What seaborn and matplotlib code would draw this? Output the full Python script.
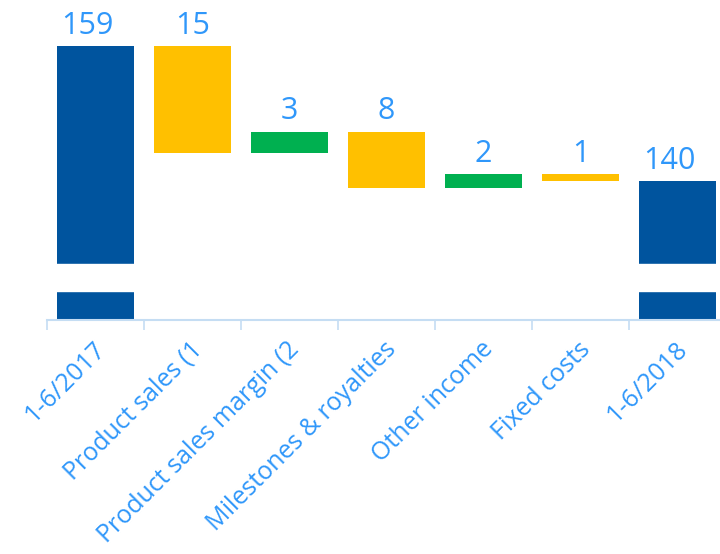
import matplotlib
matplotlib.use("Agg")
import matplotlib.pyplot as plt
import matplotlib.transforms as mtransforms
import seaborn as sns
import numpy as np

categories = ["1-6/2017", "Product sales (1", "Product sales margin (2",
              "Milestones & royalties", "Other income", "Fixed costs", "1-6/2018"]
changes = [159, -15, 3, -8, 2, -1, 140]
labels = ["159", "15", "3", "8", "2", "1", "140"]
is_total = [True, False, False, False, False, False, True]

BLUE = "#00549E"
YELLOW = "#FFC000"
GREEN = "#00B050"
TXT = "#2F97FA"
AXC = "#C5DDF3"

# waterfall tops / bottoms
tops, bottoms, colors = [], [], []
running = 0
for v, tot in zip(changes, is_total):
    if tot:
        running = v
        tops.append(v); bottoms.append(0); colors.append(BLUE)
    else:
        start = running
        running = running + v
        tops.append(max(start, running)); bottoms.append(min(start, running))
        colors.append(GREEN if v > 0 else YELLOW)

sns.set_theme(style="white")
plt.rcParams['font.family'] = ['Open Sans', 'DejaVu Sans']

fig = plt.figure(figsize=(7.2, 5.54), dpi=100)
ax = fig.add_axes([47/720, 1 - 320/554, 679/720, 320/554])

sns.barplot(x=categories, y=tops, hue=categories, palette=colors, legend=False,
            width=0.8, linewidth=0, saturation=1, ax=ax, order=categories)
sns.barplot(x=categories, y=bottoms, color="white", width=0.82, linewidth=0,
            saturation=1, ax=ax, order=categories)

ax.set_ylim(120.54, 165.46)
ax.set_xlim(-0.5, 6.5)

# axis break band on total bars
ax.axhspan(124.6, 128.4, color="white", zorder=3)

for i, (t, lab, tot) in enumerate(zip(tops, labels, is_total)):
    ax.annotate(lab, (i, t), xytext=(-6 if tot else 0, 9), textcoords="offset points",
                ha="center", va="baseline", fontsize=22, color=TXT, zorder=5)

for s in ["top", "right", "left"]:
    ax.spines[s].set_visible(False)
ax.spines["bottom"].set_color(AXC)
ax.spines["bottom"].set_linewidth(1.5)
ax.set_yticks([])
ax.set_ylabel("")
ax.set_xlabel("")
ax.set_xticks(range(len(categories)))
ax.set_xticklabels(categories, rotation=45, rotation_mode="anchor", ha="right",
                   va="center", fontsize=18, color=TXT)
ax.tick_params(axis="x", which="major", length=0, pad=17)
offset = mtransforms.ScaledTranslation(6/100, -2/100, fig.dpi_scale_trans)
for lbl in ax.get_xticklabels():
    lbl.set_transform(lbl.get_transform() + offset)
ax.set_xticks(np.arange(-0.5, 7.0, 1.0), minor=True)
ax.tick_params(axis="x", which="minor", length=7, width=1.2, color=AXC, direction="out",
               bottom=True)

fig.savefig("out.png", dpi=100)
